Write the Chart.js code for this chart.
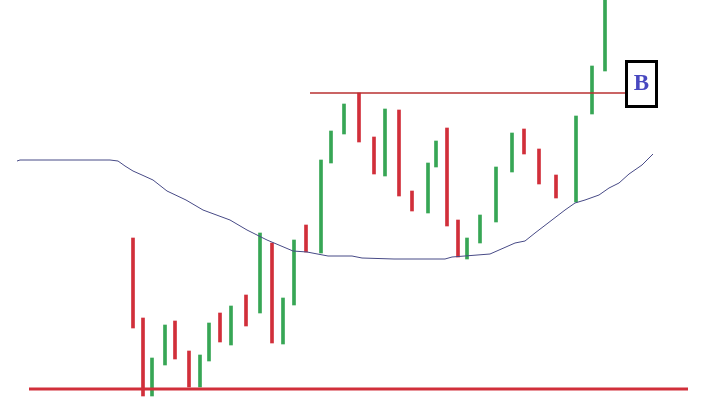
<!DOCTYPE html>
<html>
<head>
<meta charset="utf-8">
<script src="https://cdn.jsdelivr.net/npm/chart.js@4.4.1/dist/chart.umd.min.js"></script>
<style>
  html, body { margin: 0; padding: 0; background: #fff; }
  #wrap { width: 704px; height: 400px; }
</style>
</head>
<body>
<div id="wrap"><canvas id="chart"></canvas></div>
<script>
// time position of each bar
const barTime = [13.3, 14.3, 15.2, 16.5, 17.5, 18.9, 20.0, 20.9, 22.0, 23.1, 24.6, 26.0, 27.2, 28.3, 29.4, 30.6, 32.1, 33.1, 34.4,
                 35.9, 37.4, 38.5, 39.9, 41.2, 42.8, 43.6, 44.7, 45.8, 46.7, 48.0, 49.6, 51.2, 52.4, 53.9, 55.6, 57.6, 59.2, 60.5];
const barHigh = [162, 82, 42, 75, 79, 49, 45, 77, 87, 94, 105, 167, 157, 102, 160, 175, 240, 269, 296,
                 307, 263, 291, 290, 209, 237, 259, 272, 180, 162, 185, 233, 267, 271, 251, 225, 284, 334, 400];
const barLow  = [72, 4, 4, 35, 41, 13, 13, 39, 58, 55, 74, 87, 57, 56, 95, 148, 147, 237, 266,
                 258, 226, 224, 204, 189, 187, 233, 174, 143, 141, 157, 178, 228, 246, 216, 202, 198, 286, 329];
const barDir  = ['down', 'down', 'up', 'up', 'down', 'down', 'up', 'up', 'down', 'up', 'down', 'up', 'down', 'up', 'up', 'down', 'up', 'up', 'up',
                 'down', 'down', 'up', 'down', 'down', 'up', 'up', 'down', 'down', 'up', 'up', 'up', 'up', 'down', 'down', 'down', 'up', 'up', 'up'];

// moving average
const maTime  = [1.7, 2.0, 11.0, 11.8, 12.5, 13.3, 14.2, 15.3, 16.7, 18.6, 20.3, 23.0, 24.7, 26.7, 29.3, 30.7, 32.8, 35.2,
                 36.2, 39.4, 44.5, 45.2, 49.0, 51.5, 52.5, 53.5, 56.5, 57.5, 58.5, 59.9, 60.9, 61.9, 62.9, 64.2, 65.3];
const maValue = [239, 240, 240, 239, 234, 229, 225, 220, 209, 200, 190, 180, 170, 160, 149, 148, 144, 144,
                 142, 141, 141, 143, 146, 157, 159, 167, 190, 197, 200, 205, 212, 217, 226, 235, 246];

// horizontal levels
const supportLevel = 11;
const supportSpan = [2.9, 68.8];
const resistLevel = 307;
const resistSpan = [31.0, 62.5];

// breakout marker
const markerLabel = 'B';
const markerTime = 64.15;
const markerValue = 316.5;

const RED = '#d12f3a';
const GREEN = '#37a655';

const markerPlugin = {
  id: 'marker',
  afterDatasetsDraw(chart) {
    const ctx = chart.ctx;
    const cx = chart.scales.x.getPixelForValue(markerTime);
    const cy = chart.scales.y.getPixelForValue(markerValue);
    ctx.save();
    ctx.fillStyle = '#fff';
    ctx.fillRect(cx - 15, cy - 22, 30, 45);
    ctx.lineWidth = 3;
    ctx.strokeStyle = '#000';
    ctx.strokeRect(cx - 15, cy - 22, 30, 45);
    ctx.fillStyle = '#4848c0';
    ctx.font = 'bold 23px "Liberation Serif", "DejaVu Serif", serif';
    ctx.textAlign = 'center';
    ctx.textBaseline = 'middle';
    ctx.fillText(markerLabel, cx, cy + 1);
    ctx.restore();
  }
};

new Chart(document.getElementById('chart'), {
  type: 'bar',
  data: {
    datasets: [
      {
        type: 'line',
        data: maTime.map((t, i) => ({ x: t, y: maValue[i] })),
        borderColor: '#474a86',
        borderWidth: 1,
        pointRadius: 0,
        tension: 0
      },
      {
        type: 'line',
        data: [{ x: resistSpan[0], y: resistLevel }, { x: resistSpan[1], y: resistLevel }],
        borderColor: '#b83030',
        borderWidth: 1.5,
        pointRadius: 0
      },
      {
        type: 'line',
        data: [{ x: supportSpan[0], y: supportLevel }, { x: supportSpan[1], y: supportLevel }],
        borderColor: RED,
        borderWidth: 3,
        pointRadius: 0
      },
      {
        type: 'bar',
        data: barTime.map((t, i) => ({ x: t, y: [barLow[i], barHigh[i]] })),
        backgroundColor: barDir.map(d => d === 'up' ? GREEN : RED),
        borderWidth: 0,
        barThickness: 3
      }
    ]
  },
  options: {
    responsive: true,
    maintainAspectRatio: false,
    devicePixelRatio: 1,
    animation: false,
    layout: { padding: 0 },
    plugins: { legend: { display: false }, tooltip: { enabled: false } },
    scales: {
      x: { type: 'linear', min: 0, max: 70.4, offset: false, display: false },
      y: { type: 'linear', min: 0, max: 400, display: false }
    }
  },
  plugins: [markerPlugin]
});
</script>
</body>
</html>
